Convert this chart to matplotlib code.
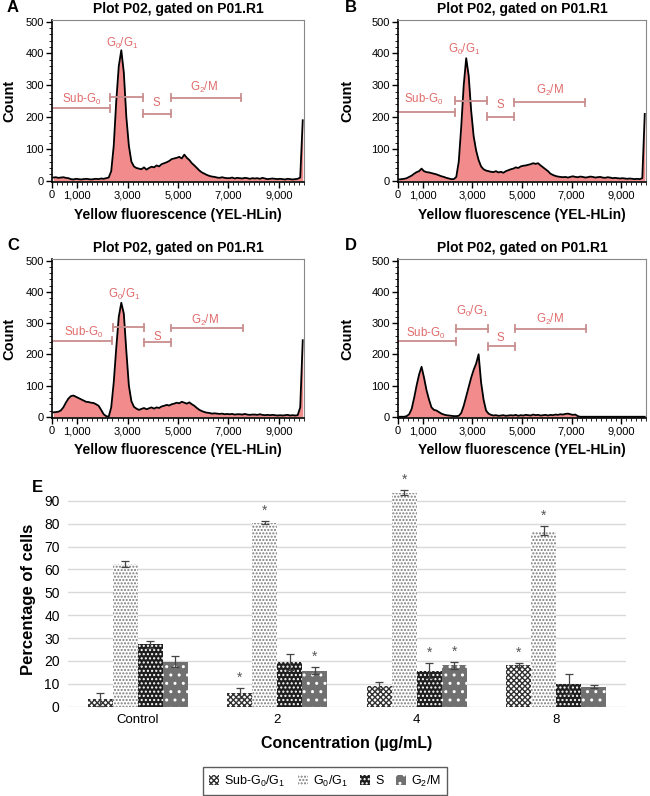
import numpy as np
import matplotlib.pyplot as plt
from matplotlib.ticker import MultipleLocator, FixedLocator

plt.rcParams['font.family'] = ['Liberation Sans', 'DejaVu Sans']
plt.rcParams['hatch.linewidth'] = 1.0

# histogram bins (centres, 100-unit channels)
bin_x = np.arange(50, 10000, 100)

counts_A = [10, 11, 9, 10, 11, 9, 8,
            5, 4, 6, 5, 4, 5, 6, 5, 4, 5, 6, 5, 7, 6, 8, 10,
            30, 110, 250, 360, 410, 340, 200, 110, 60, 45, 40,
            38, 36, 42, 35, 40, 44,
            42, 48, 45, 52, 55,
            58, 62, 68, 70, 72,
            75, 70, 82, 72, 65,
            55, 48, 40, 32, 26,
            22, 18, 15, 13, 12,
            10, 9, 11, 9, 8,
            8, 10, 7, 9, 8, 7, 9, 8, 6, 8,
            7, 8, 6, 9, 7, 5, 6, 7, 6, 5,
            6, 5, 4, 6, 5, 4, 5, 6, 10,
            190]
counts_B = [4, 5, 6, 8,
            12, 16, 22, 27, 30, 38,
            30, 27, 26, 24, 22,
            20, 17, 14, 12, 9, 7, 5, 5,
            12, 60, 170, 300, 385, 330, 220, 140, 95, 65, 45,
            36, 32, 30, 28, 27, 30,
            26, 28, 25, 30, 33,
            36, 38, 42, 40, 45,
            47, 48, 50, 52, 55,
            53, 55, 48, 42, 36,
            30, 22, 18, 15, 13,
            12, 11, 12, 10, 12,
            14, 12, 11, 13, 12, 10, 11, 13, 12, 10,
            11, 12, 10, 9, 11, 10, 8, 9, 8, 7,
            8, 7, 6, 7, 6, 5, 6, 5, 8,
            210]
counts_C = [14, 15, 16, 20,
            30, 45, 58, 66, 68, 64,
            60, 56, 52, 48, 47,
            45, 44, 40, 35, 22, 8, 2, 0,
            30, 110, 220, 320, 365, 330, 210, 100, 50, 32, 26,
            22, 25, 28, 24, 27, 30,
            26, 30, 28, 33, 35,
            38, 36, 40, 42, 45,
            43, 48, 45, 42, 46,
            40, 35, 28, 22, 18,
            15, 13, 12, 10, 11,
            10, 9, 10, 8, 9,
            8, 9, 7, 8, 8, 7, 9, 7, 6, 7,
            7, 6, 8, 6, 5, 6, 5, 6, 5, 4,
            5, 4, 5, 6, 4, 5, 4, 5, 30,
            245]
counts_D = [0, 0, 0, 2,
            8, 25, 60, 100, 135, 160,
            125, 85, 55, 30, 22,
            20, 15, 10, 7, 5, 4, 3, 2,
            2, 3, 12, 35, 65, 95, 125, 150, 170, 200, 110,
            55, 20, 10, 6, 4, 5,
            3, 4, 5, 3, 4,
            5, 4, 6, 3, 5,
            4, 6, 5, 4, 7,
            5, 6, 4, 5, 6,
            4, 6, 5, 7, 6,
            8, 7, 9, 10, 8,
            6, 7, 2, 0, 0, 0, 0, 0, 0, 0,
            0, 0, 0, 0, 0, 0, 0, 0, 0, 0,
            0, 0, 0, 0, 0, 0, 0, 0, 0,
            0]

gate_names = ['Sub-G$\\mathregular{_0}$', 'G$\\mathregular{_0}$/G$\\mathregular{_1}$',
              'S', 'G$\\mathregular{_2}$/M']
gates_A = [(0, 2310, 228), (2310, 3630, 263), (3630, 4720, 210), (4720, 7490, 261)]
labels_A = [(1190, 255), (2770, 432), (4130, 244), (6040, 293)]
gates_B = [(0, 2310, 215), (2310, 3580, 251), (3580, 4680, 201), (4680, 7540, 247)]
labels_B = [(1030, 256), (2670, 413), (4120, 238), (6130, 284)]
gates_C = [(0, 2380, 244), (2440, 3660, 286), (3660, 4730, 238), (4730, 7560, 284)]
labels_C = [(1250, 271), (2870, 393), (4160, 255), (6080, 308)]
gates_D = [(0, 2350, 241), (2350, 3610, 282), (3610, 4700, 225), (4700, 7570, 282)]
labels_D = [(1100, 268), (2980, 337), (4120, 252), (6130, 310)]

# panel E
categories = ['Control', '2', '4', '8']
series_names = ['Sub-G$\\mathregular{_0}$/G$\\mathregular{_1}$',
                'G$\\mathregular{_0}$/G$\\mathregular{_1}$', 'S', 'G$\\mathregular{_2}$/M']
sub_g0g1 = [3.2, 5.9, 9.2, 18.1]
sub_err = [2.7, 2.1, 1.5, 0.9]
g0g1 = [62.5, 80.5, 93.6, 77.0]
g0g1_err = [1.2, 0.6, 1.2, 1.8]
s_phase = [27.3, 19.5, 15.7, 9.8]
s_err = [1.5, 3.4, 3.3, 4.4]
g2m = [19.6, 15.7, 18.1, 8.8]
g2m_err = [2.4, 1.5, 1.5, 0.5]
# (series, category) pairs marked with *
significant = [(0, 1), (1, 1), (3, 1), (1, 2), (2, 2), (3, 2), (0, 3), (1, 3)]

FILL = '#f28b8b'
GATE = '#c98d8d'
GATE_TXT = '#e06a6a'
W, H = 650, 796


def box(l, t, r, b):
    return [l / W, 1 - b / H, (r - l) / W, (b - t) / H]


def hist_panel(fig, rect, letter, letter_x, counts, gates, labels, ylab_x):
    ax = fig.add_axes(rect)
    ax.fill_between(bin_x, counts, color=FILL, lw=0)
    ax.plot(bin_x, counts, color='black', lw=1.3)
    for (x1, x2, y), name, (tx, ty) in zip(gates, gate_names, labels):
        ax.plot([x1, x2], [y, y], color=GATE, lw=1.3)
        if x1 > 0:
            ax.plot([x1, x1], [y - 11, y + 11], color=GATE, lw=1.3)
        ax.plot([x2, x2], [y - 11, y + 11], color=GATE, lw=1.3)
        ax.text(tx, ty, name, color=GATE_TXT, fontsize=8.3, ha='center', va='center')
    ax.set_xlim(0, 10000)
    ax.set_ylim(-4, 505)
    ax.xaxis.set_major_locator(FixedLocator([0, 1000, 3000, 5000, 7000, 9000]))
    ax.set_xticklabels(['0', '1,000', '3,000', '5,000', '7,000', '9,000'])
    ax.xaxis.set_minor_locator(MultipleLocator(200))
    ax.yaxis.set_major_locator(MultipleLocator(100))
    ax.yaxis.set_minor_locator(MultipleLocator(20))
    ax.tick_params(which='major', length=4, width=1, labelsize=8, pad=2)
    ax.tick_params(which='minor', length=2, width=0.6)
    for s in ['top', 'right']:
        ax.spines[s].set_color('#888888')
        ax.spines[s].set_linewidth(0.8)
    for s in ['left', 'bottom']:
        ax.spines[s].set_linewidth(1.2)
    ax.set_title('Plot P02, gated on P01.R1', fontsize=10, fontweight='bold', pad=5)
    ax.set_ylabel('Count', fontsize=10.5, fontweight='bold')
    ax.yaxis.set_label_coords(ylab_x, 0.5)
    ax.set_xlabel('Yellow fluorescence (YEL-HLin)', fontsize=10, fontweight='bold')
    ax.xaxis.set_label_coords(0.5, -0.16)
    fig.text(letter_x / W, rect[1] + rect[3] + 13 / H, letter, fontsize=12,
             fontweight='bold', ha='left', va='center')
    return ax


fig = plt.figure(figsize=(W / 100, H / 100), dpi=100)

hist_panel(fig, box(52, 20, 304, 182), 'A', 7, counts_A, gates_A, labels_A, -0.14)
hist_panel(fig, box(398, 20, 646, 182), 'B', 345, counts_B, gates_B, labels_B, -0.175)
hist_panel(fig, box(52, 259, 304, 418), 'C', 7, counts_C, gates_C, labels_C, -0.14)
hist_panel(fig, box(398, 259, 646, 418), 'D', 345, counts_D, gates_D, labels_D, -0.175)

# panel E: grouped bar chart
ax = fig.add_axes(box(68, 478, 626, 706.7))
idx = np.arange(len(categories))
bw = 0.18
series = [sub_g0g1, g0g1, s_phase, g2m]
errors = [sub_err, g0g1_err, s_err, g2m_err]
styles = [dict(color='white', edgecolor='#303030', hatch='xxxxxx'),
          dict(color='white', edgecolor='#7a7a7a', hatch='.....'),
          dict(color='#1e1e1e', edgecolor='white', hatch='....'),
          dict(color='#707070', edgecolor='white', hatch='..')]
handles = []
for k, (vals, errs, st, name) in enumerate(zip(series, errors, styles, series_names)):
    xs = idx + (k - 1.5) * bw
    b = ax.bar(xs, vals, bw, lw=0, label=name, **st)
    handles.append(b)
    ax.errorbar(xs, vals, yerr=errs, fmt='none', ecolor='#444444', elinewidth=0.9,
                capsize=3, capthick=0.9)
for k, c in significant:
    x = c + (k - 1.5) * bw
    ax.text(x, series[k][c] + errors[k][c] + 1.5, '*', ha='center', va='bottom',
            fontsize=10, color='#555555')

ax.set_xlim(-0.5, 3.5)
ax.set_ylim(0, 100)
ax.set_yticks(np.arange(0, 91, 10))
ax.set_xticks(idx)
ax.set_xticklabels(categories)
ax.tick_params(axis='y', length=0, labelsize=10, pad=6)
ax.tick_params(axis='x', length=0, labelsize=9.5, pad=5)
ax.grid(axis='y', color='#d9d9d9', lw=1)
ax.set_axisbelow(True)
for s in ax.spines.values():
    s.set_visible(False)
ax.set_ylabel('Percentage of cells', fontsize=12, fontweight='bold')
ax.yaxis.set_label_coords(-0.057, 0.47)
ax.set_xlabel('Concentration (\u00b5g/mL)', fontsize=11.5, fontweight='bold')
ax.xaxis.set_label_coords(0.5, -0.13)
fig.text(37 / W, 1 - 488 / H, 'E', fontsize=12, fontweight='bold', ha='center', va='center')

fig.legend(handles=handles, loc='center', bbox_to_anchor=(325 / W, 1 - 781 / H), ncol=4,
           fontsize=9, frameon=True, fancybox=False, edgecolor='#333333',
           handlelength=0.8, handleheight=0.8, handletextpad=0.4, columnspacing=1.0,
           borderpad=0.5)

fig.savefig('out.png', dpi=100)
